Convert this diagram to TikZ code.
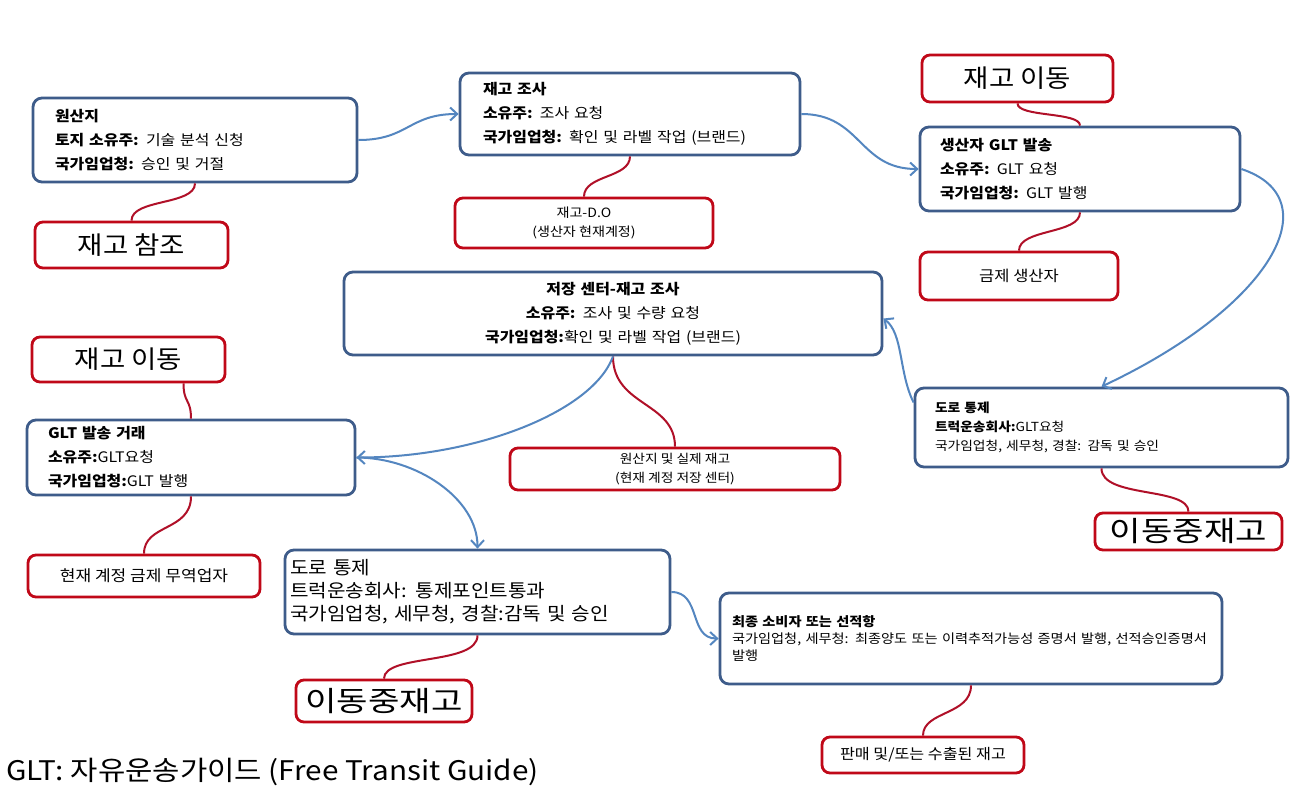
\documentclass[tikz,border=0pt]{standalone}
\usepackage{fontspec}
\setmainfont{Noto Sans CJK KR}[FakeStretch=1.1]
\newfontfamily\krwide{Noto Sans CJK KR}[FakeStretch=1.22]
\usetikzlibrary{arrows.meta,calc}
\definecolor{bluebd}{RGB}{62,92,138}
\definecolor{bluearr}{RGB}{84,134,192}
\definecolor{redbd}{RGB}{192,8,24}
\definecolor{redln}{RGB}{176,16,40}
\tikzset{
  bbox/.style={draw=bluebd, line width=2.8pt, rounded corners=9pt, fill=white, inner ysep=0pt, align=left, font=\fontsize{14.5}{24}\selectfont},
  rbox/.style={draw=redbd, line width=2.8pt, rounded corners=8pt, fill=white, inner sep=0pt, align=center},
  barrow/.style={draw=bluearr, line width=2pt, -{Straight Barb[length=7pt,width=13pt]}},
  rline/.style={draw=redln, line width=2pt}
}
\begin{document}
\begin{tikzpicture}[x=1pt,y=-1pt]
\useasboundingbox (0,0) rectangle (1291,796);
\fill[white] (0,0) rectangle (1291,796);

% blue boxes
\node[bbox, minimum width=324pt, minimum height=84pt, text width=280pt, inner xsep=22pt] (b1) at (195,140)
 {{\bfseries 원산지}\\{\bfseries 토지 소유주:} 기술 분석 신청\\{\bfseries 국가임업청:} 승인 및 거절};
\node[bbox, minimum width=340pt, minimum height=82pt, text width=294pt, inner xsep=23pt] (b2) at (630,114)
 {{\bfseries 재고 조사}\\{\bfseries 소유주:} 조사 요청\\{\bfseries 국가임업청:} 확인 및 라벨 작업 (브랜드)};
\node[bbox, minimum width=320pt, minimum height=84pt, text width=280pt, inner xsep=20pt] (b3) at (1080,169)
 {{\bfseries 생산자 GLT 발송}\\{\bfseries 소유주:} GLT 요청\\{\bfseries 국가임업청:} GLT 발행};
\node[bbox, align=center, minimum width=538pt, minimum height=83pt, text width=498pt, inner xsep=20pt] (b4) at (613,313.5)
 {{\bfseries 저장 센터-재고 조사}\\{\bfseries 소유주:} 조사 및 수량 요청\\{\bfseries 국가임업청:}확인 및 라벨 작업 (브랜드)};
\node[bbox, minimum width=328pt, minimum height=75pt, text width=286pt, inner xsep=21pt] (b5) at (191,457.5)
 {{\bfseries GLT 발송 거래}\\{\bfseries 소유주:}GLT요청\\{\bfseries 국가임업청:}GLT 발행};
\node[bbox, font=\fontsize{12.5}{19}\selectfont, minimum width=373pt, minimum height=79pt, text width=333pt, inner xsep=20pt] (b6) at (1101.5,427.5)
 {{\bfseries 도로 통제}\\{\bfseries 트럭운송회사:}GLT요청\\국가임업청, 세무청, 경찰: 감독 및 승인};
\node[bbox, font=\fontsize{18.3}{23}\selectfont, minimum width=385pt, minimum height=84pt, text width=375pt, inner xsep=5pt] (b7) at (477.5,592)
 {도로 통제\\트럭운송회사: 통제포인트통과\\국가임업청, 세무청, 경찰:감독 및 승인};
\node[bbox, font=\fontsize{12.9}{17}\selectfont, minimum width=502pt, minimum height=91pt, text width=478pt, inner xsep=12pt] (b8) at (971,638.5)
 {{\bfseries 최종 소비자 또는 선적항}\\국가임업청, 세무청: 최종양도 또는 이력추적가능성 증명서 발행, 선적승인증명서\\발행};

% red boxes
\node[rbox, font=\fontsize{25}{28}\selectfont, minimum width=193pt, minimum height=46pt] (r1) at (131.5,245) {재고 참조};
\node[rbox, font=\fontsize{12.8}{19}\selectfont, minimum width=258pt, minimum height=50pt] (r2) at (584,223) {재고-D.O\\(생산자 현재계정)};
\node[rbox, font=\fontsize{25}{28}\selectfont, minimum width=191pt, minimum height=47pt] (r3) at (1017.5,78.5) {재고 이동};
\node[rbox, font=\fontsize{15}{18}\selectfont, minimum width=198pt, minimum height=48pt] (r4) at (1019,276) {금제 생산자};
\node[rbox, font=\fontsize{25}{28}\selectfont, minimum width=193pt, minimum height=45pt] (r5) at (128.5,359.5) {재고 이동};
\node[rbox, font=\fontsize{12.5}{19}\selectfont, minimum width=330pt, minimum height=42pt] (r6) at (675,469) {원산지 및 실제 재고\\(현재 계정 저장 센터)};
\node[rbox, font=\krwide\fontsize{28}{30}\selectfont, minimum width=187pt, minimum height=37pt] (r7) at (1188.5,531.5) {이동중재고};
\node[rbox, font=\fontsize{15.5}{18}\selectfont, minimum width=232pt, minimum height=42pt] (r8) at (144,576) {현재 계정 금제 무역업자};
\node[rbox, font=\krwide\fontsize{28}{30}\selectfont, minimum width=176pt, minimum height=42pt] (r9) at (384,701) {이동중재고};
\node[rbox, font=\fontsize{14.7}{18}\selectfont, minimum width=202pt, minimum height=36pt] (r10) at (923,755) {판매 및/또는 수출된 재고};

% legend
\node[anchor=west, inner sep=0pt, font=\fontsize{27}{30}\selectfont] (legend) at (6,772) {GLT: 자유운송가이드 (Free Transit Guide)};

% red connectors
\draw[rline] (b1.south) .. controls +(0,22) and +(0,-22) .. (r1.north);
\draw[rline] (b2.south) .. controls +(0,22) and +(0,-22) .. (r2.north);
\draw[rline] (r3.south) .. controls +(0,14) and +(0,-14) .. (b3.north);
\draw[rline] (b3.south) .. controls +(0,22) and +(0,-22) .. (r4.north);
\draw[rline] ($(r5.south)+(55,0)$) .. controls +(0,20) and +(0,-20) .. (b5.north);
\draw[rline] (b5.south) .. controls +(0,35) and +(0,-30) .. (r8.north);
\draw[rline] (b4.south) .. controls +(0,50) and +(0,-45) .. (r6.north);
\draw[rline] (b6.south) .. controls +(0,30) and +(0,-25) .. (r7.north);
\draw[rline] (b7.south) .. controls +(0,30) and +(0,-25) .. (r9.north);
\draw[rline] (b8.south) .. controls +(0,30) and +(0,-25) .. (r10.north);

% blue arrows
\draw[barrow] (b1.east) .. controls +(50,0) and +(-50,0) .. (b2.west);
\draw[barrow] (b2.east) .. controls +(60,0) and +(-60,0) .. (b3.west);
\draw[barrow] (b3.east) .. controls +(90,30) and +(170,-80) .. (b6.north);
\draw[barrow] ($(b6.west)+(0,-25)$) .. controls +(-15,-30) and +(20,15) .. ($(b4.east)+(0,5)$);
\draw[barrow] (b4.south) .. controls +(-20,55) and +(120,0) .. (b5.east);
\draw[barrow] (b5.east) .. controls +(60,0) and +(0,-50) .. (b7.north);
\draw[barrow] (b7.east) .. controls +(30,0) and +(-30,0) .. (b8.west);
\end{tikzpicture}
\end{document}
